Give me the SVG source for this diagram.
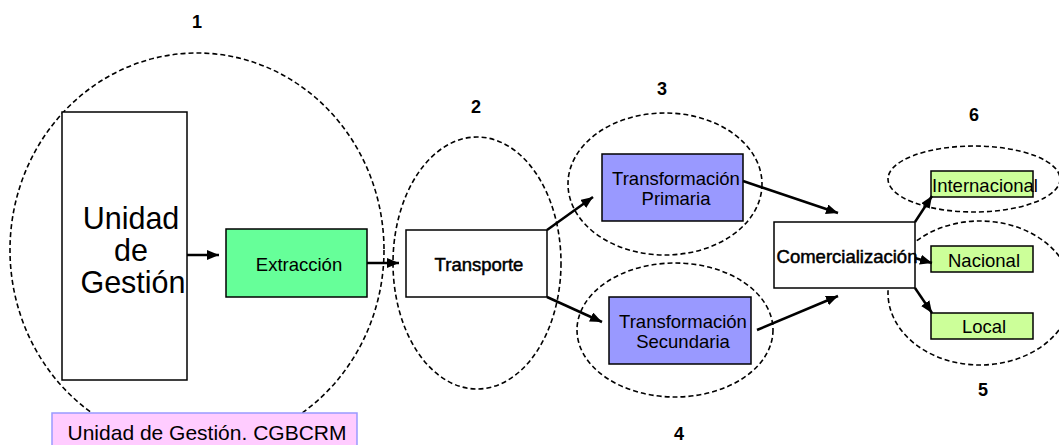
<svg xmlns="http://www.w3.org/2000/svg" width="1059" height="445" viewBox="0 0 1059 445">
<style>
text{font-family:"Liberation Sans",Arial,sans-serif;fill:#000}
.num{font-size:18px;font-weight:bold;text-anchor:middle}
.lbl{font-size:18.5px;text-anchor:middle}
.big{font-size:30.5px;text-anchor:middle}
.bd{stroke:#000;stroke-width:0.5}
.grp{fill:none;stroke:#000;stroke-width:1.6;stroke-dasharray:5,3}
.box{stroke:#000;stroke-width:1.5}
.con{fill:none;stroke:#000;stroke-width:2.5;marker-end:url(#ah)}
</style>
<defs>
<marker id="ah" markerUnits="userSpaceOnUse" markerWidth="14" markerHeight="12" refX="12" refY="5" orient="auto">
<path d="M0,0 L12,5 L0,10 z" fill="#000"/>
</marker>
</defs>
<rect width="1059" height="445" fill="#fff"/>
<g id="groups">
<ellipse class="grp" cx="197" cy="250" rx="187" ry="197"/>
<ellipse class="grp" cx="477" cy="263" rx="84" ry="126"/>
<ellipse class="grp" cx="665" cy="184" rx="97" ry="71"/>
<ellipse class="grp" cx="675" cy="330" rx="98" ry="67"/>
<ellipse class="grp" cx="974" cy="179" rx="86" ry="33"/>
<ellipse class="grp" cx="980" cy="293" rx="92" ry="72"/>
</g>
<g id="numbers">
<text class="num" x="197" y="28">1</text>
<text class="num" x="476" y="113">2</text>
<text class="num" x="662" y="95">3</text>
<text class="num" x="679" y="440">4</text>
<text class="num" x="983" y="396">5</text>
<text class="num" x="974" y="121">6</text>
</g>
<g id="unidad">
<rect class="box" x="62" y="112" width="125" height="268" fill="#fff"/>
<text class="big" x="131" y="229">Unidad</text>
<text class="big" x="131" y="261">de</text>
<text class="big" x="133" y="293">Gestión</text>
</g>
<g id="extraccion">
<rect class="box" x="226" y="229" width="141" height="68" fill="#66ff99"/>
<text class="lbl" x="299" y="271">Extracción</text>
</g>
<g id="transporte">
<rect class="box" x="406" y="230" width="141" height="67" fill="#fff"/>
<text class="lbl bd" x="479" y="271">Transporte</text>
</g>
<g id="tprimaria">
<rect class="box" x="602" y="154" width="141" height="67" fill="#9999ff"/>
<text class="lbl" x="676" y="185">Transformación</text>
<text class="lbl" x="676" y="205">Primaria</text>
</g>
<g id="tsecundaria">
<rect class="box" x="609" y="297" width="142" height="67" fill="#9999ff"/>
<text class="lbl" x="683" y="328">Transformación</text>
<text class="lbl" x="683" y="348">Secundaria</text>
</g>
<g id="comercializacion">
<rect class="box" x="774" y="222" width="141" height="66" fill="#fff"/>
<text class="lbl bd" x="847" y="263">Comercialización</text>
</g>
<g id="internacional">
<rect class="box" x="931" y="171" width="102" height="26" fill="#ccff99"/>
<text class="lbl" x="985" y="192">Internacional</text>
</g>
<g id="nacional">
<rect class="box" x="931" y="246" width="102" height="26" fill="#ccff99"/>
<text class="lbl" x="984" y="267">Nacional</text>
</g>
<g id="local">
<rect class="box" x="931" y="313" width="102" height="26" fill="#ccff99"/>
<text class="lbl" x="984" y="333">Local</text>
</g>
<g id="caption">
<rect x="52" y="413" width="305" height="40" fill="#ffccff" stroke="#9999ff" stroke-width="1.5"/>
<text x="207" y="440" style="font-size:21px;text-anchor:middle">Unidad de Gestión. CGBCRM</text>
</g>
<g id="connectors">
<line class="con" x1="187" y1="255" x2="219" y2="255"/>
<line class="con" x1="367" y1="263" x2="399" y2="263"/>
<line class="con" x1="547" y1="230" x2="593" y2="197"/>
<line class="con" x1="547" y1="297" x2="602" y2="322"/>
<line class="con" x1="743" y1="181" x2="838" y2="213"/>
<line class="con" x1="757" y1="330" x2="838" y2="296"/>
<line class="con" x1="915" y1="222" x2="932" y2="196"/>
<line class="con" x1="915" y1="258" x2="932" y2="263"/>
<line class="con" x1="915" y1="288" x2="932" y2="313"/>
</g>
</svg>
